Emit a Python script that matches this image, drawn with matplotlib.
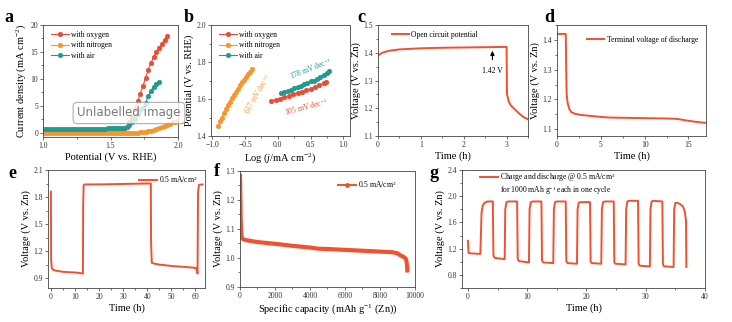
import numpy as np
import matplotlib
matplotlib.use("Agg")
import matplotlib.pyplot as plt
from matplotlib.ticker import AutoMinorLocator, MultipleLocator
from matplotlib.lines import Line2D

plt.rcParams['font.family'] = ['Liberation Serif', 'DejaVu Serif']
plt.rcParams['mathtext.fontset'] = 'custom'
plt.rcParams['mathtext.rm'] = 'Liberation Serif'
plt.rcParams['mathtext.it'] = 'Liberation Serif:italic'
plt.rcParams['xtick.direction'] = 'out'
plt.rcParams['ytick.direction'] = 'out'

RED = '#ef4a32'
ORANGE = '#f5962f'
TEAL = '#1e9c8e'
LINE = '#f2502f'

# ---- panel a: polarisation curves (x grid step 0.02 V from 1.0 V)
a_oxygen = [0.10, 0.10, 0.10, 0.10, 0.10, 0.10, 0.10, 0.10, 0.10, 0.10,
            0.11, 0.11, 0.11, 0.11, 0.11, 0.11, 0.12, 0.12, 0.12, 0.12,
            0.12, 0.13, 0.13, 0.13, 0.14, 0.14, 0.15, 0.17, 0.20,
            0.3, 0.6, 1.1, 1.9, 3.0, 4.4, 5.8, 7.2, 8.6, 10.2, 11.7,
            13.0, 14.0, 15.0, 15.8, 16.5, 17.2, 17.9]
a_nitrogen = [-0.10, -0.10, -0.10, -0.10, -0.10, -0.10, -0.10, -0.10, -0.10,
              -0.10, -0.10, -0.10, -0.09, -0.09, -0.09, -0.09, -0.09, -0.09,
              -0.09, -0.09, -0.08, -0.08, -0.08, -0.08, -0.08, -0.08, -0.07,
              -0.07, -0.07, -0.07, -0.06, -0.06, -0.06, -0.04, -0.02, 0.00,
              0.05, 0.10, 0.18, 0.28, 0.40, 0.55, 0.72, 0.90, 1.10, 1.30,
              1.50, 1.70, 1.90, 2.05, 2.20]
a_air = [0.70, 0.70, 0.70, 0.71, 0.71, 0.71, 0.72, 0.72, 0.72, 0.72,
         0.73, 0.73, 0.73, 0.74, 0.74, 0.74, 0.75, 0.75, 0.75, 0.76,
         0.76, 0.76, 0.77, 0.77, 0.78, 0.78, 0.79, 0.80, 0.82,
         0.85, 0.95, 1.1, 1.4, 1.9, 2.6, 3.4, 4.2, 4.6, 5.6, 6.8,
         7.8, 8.5, 9.0, 9.4]

# ---- panel b: Tafel plots
b_n_x = [-0.91, -0.88, -0.85, -0.82, -0.79, -0.76, -0.73, -0.70, -0.67,
         -0.64, -0.61, -0.58, -0.55, -0.52, -0.49, -0.46, -0.43, -0.40]
b_n_y = [1.455, 1.48, 1.50, 1.525, 1.545, 1.565, 1.585, 1.605, 1.62,
         1.64, 1.655, 1.675, 1.69, 1.705, 1.72, 1.735, 1.745, 1.76]
b_o_x = [-0.10, -0.03, 0.03, 0.10, 0.17, 0.23, 0.30, 0.37, 0.43, 0.50,
         0.57, 0.63, 0.70, 0.73]
b_o_y = [1.59, 1.595, 1.60, 1.61, 1.615, 1.625, 1.63, 1.64, 1.65, 1.655,
         1.665, 1.675, 1.685, 1.69]
b_a_x = [0.05, 0.10, 0.15, 0.20, 0.25, 0.30, 0.35, 0.40, 0.45, 0.50,
         0.55, 0.60, 0.65, 0.70, 0.75, 0.78]
b_a_y = [1.63, 1.64, 1.645, 1.65, 1.66, 1.665, 1.67, 1.68, 1.685, 1.695,
         1.70, 1.71, 1.72, 1.73, 1.74, 1.75]

# ---- panel c: open circuit potential
c_t = [0, 0.05, 0.1, 0.2, 0.3, 0.5, 0.75, 1.0, 1.5, 2.0, 2.5, 2.95, 3.0,
       3.01, 3.05, 3.1, 3.2, 3.3, 3.4, 3.5]
c_v = [1.39, 1.395, 1.40, 1.405, 1.408, 1.412, 1.414, 1.416, 1.418, 1.419,
       1.42, 1.421, 1.421, 1.25, 1.225, 1.21, 1.195, 1.18, 1.168, 1.16]

# ---- panel d: terminal voltage of discharge
d_t = [0, 0.5, 1.0, 1.05, 1.1, 1.2, 1.4, 1.6, 2.0, 2.5, 3.0, 4.0, 5.0, 6.0,
       8.0, 10.0, 12.0, 13.5, 14.0, 15.0, 16.0, 17.0]
d_v = [1.42, 1.42, 1.42, 1.30, 1.22, 1.19, 1.168, 1.158, 1.152, 1.149,
       1.147, 1.144, 1.141, 1.139, 1.138, 1.137, 1.136, 1.135, 1.133, 1.128,
       1.124, 1.121]

# ---- panel e: discharge / charge at 0.5 mA/cm2
e_t = [0.0, 0.1, 0.4, 1.0, 2.5, 5.0, 8.0, 11.0, 13.3, 13.4, 13.6, 14.0,
       20.0, 30.0, 40.0, 41.5, 41.6, 41.9, 43.0, 45.0, 50.0, 55.0, 59.5,
       60.3, 60.6, 60.9, 61.1, 61.5, 63.0]
e_v = [1.86, 1.10, 1.01, 0.99, 0.98, 0.97, 0.965, 0.96, 0.95, 1.70, 1.93,
       1.94, 1.94, 1.945, 1.95, 1.95, 1.30, 1.07, 1.06, 1.05, 1.035, 1.025,
       1.015, 1.01, 0.98, 0.95, 1.85, 1.935, 1.94]

# ---- panel f: specific capacity
f_cap = [0, 10, 20, 30, 40, 60, 80, 100, 150, 300, 500, 1000, 1500, 2000,
         3000, 4000, 4500, 5000, 6000, 7000, 8000, 8700, 9000, 9200, 9400,
         9500, 9550, 9570]
f_v = [1.29, 1.26, 1.21, 1.17, 1.13, 1.10, 1.08, 1.07, 1.066, 1.062, 1.06,
       1.055, 1.052, 1.049, 1.042, 1.036, 1.032, 1.031, 1.028, 1.025, 1.022,
       1.02, 1.016, 1.008, 1.002, 0.995, 0.97, 0.95]

# ---- panel g: cycling
g_t = [0.0, 0.1, 0.2, 2.1, 2.3, 2.5, 2.8, 3.3, 4.2, 4.3, 4.5, 6.2, 6.3, 6.5,
       6.8, 8.3, 8.4, 8.6, 10.3, 10.4, 10.6, 10.9, 12.4, 12.5, 12.7, 14.4,
       14.5, 14.7, 15.0, 16.5, 16.6, 16.8, 18.4, 18.5, 18.7, 19.0, 20.6,
       20.7, 20.9, 22.5, 22.6, 22.8, 23.1, 24.6, 24.7, 24.9, 26.6, 26.7,
       26.9, 27.2, 28.7, 28.8, 29.0, 30.7, 30.8, 31.0, 31.3, 32.8, 32.9,
       33.1, 34.7, 34.8, 35.0, 35.3, 35.8, 36.3, 36.6, 36.8, 36.85]
g_v = [1.32, 1.14, 1.13, 1.12, 1.75, 1.86, 1.90, 1.92, 1.92, 1.10, 1.06,
       1.04, 1.80, 1.91, 1.92, 1.92, 1.04, 1.01, 0.99, 1.80, 1.91, 1.92,
       1.92, 1.02, 0.99, 0.98, 1.80, 1.91, 1.92, 1.92, 1.01, 0.98, 0.97,
       1.80, 1.90, 1.91, 1.91, 1.00, 0.98, 0.97, 1.80, 1.91, 1.92, 1.92,
       0.99, 0.97, 0.96, 1.80, 1.92, 1.93, 1.93, 0.97, 0.94, 0.93, 1.80,
       1.92, 1.93, 1.92, 0.96, 0.93, 0.92, 1.80, 1.90, 1.90, 1.88, 1.84,
       1.76, 1.62, 0.92]

W, H = 732, 322
fig = plt.figure(figsize=(W / 100, H / 100), dpi=100)


def px_axes(x0, y0, x1, y1):
    # axes box from pixel coords (top-left origin)
    return fig.add_axes([x0 / W, 1 - y1 / H, (x1 - x0) / W, (y1 - y0) / H])


def style(ax, xlabel, ylabel):
    for s in ax.spines.values():
        s.set_linewidth(0.6)
        s.set_color('#444444')
    ax.tick_params(labelsize=5.5, length=2, width=0.5, pad=1.5,
                   colors='#333333')
    ax.tick_params(which='minor', length=1.2, width=0.4)
    ax.xaxis.set_minor_locator(AutoMinorLocator(2))
    ax.yaxis.set_minor_locator(AutoMinorLocator(2))
    ax.set_xlabel(xlabel, fontsize=7.5, labelpad=1.5)
    ax.set_ylabel(ylabel, fontsize=7.5, labelpad=2)


leg_kw = dict(frameon=False, fontsize=5.5, handlelength=2.3,
              handletextpad=0.3, borderaxespad=0.0, borderpad=0.0,
              labelspacing=0.35)

# ---------- a
ax = px_axes(43, 25, 178, 137)
for y, c, lab in [(a_oxygen, RED, 'with oxygen'),
                  (a_nitrogen, ORANGE, 'with nitrogen'),
                  (a_air, TEAL, 'with air')]:
    x = 1.0 + 0.02 * np.arange(len(y))
    ax.plot(x, y, '-o', color=c, ms=3.2, lw=0.8, mew=0.5, label=lab)
ax.set_xlim(1.0, 2.0)
ax.set_ylim(-0.8, 20)
ax.xaxis.set_major_locator(MultipleLocator(0.5))
ax.yaxis.set_major_locator(MultipleLocator(5))
style(ax, 'Potential (V vs. RHE)', 'Current density (mA cm$^{-2}$)')
ax.legend(loc='upper left', bbox_to_anchor=(0.06, 0.95), **leg_kw)

# ---------- b
ax = px_axes(211, 25, 350, 136)
ax.plot(b_o_x, b_o_y, '-o', color=RED, ms=3.2, lw=0.8, mew=0.5,
        label='with oxygen')
ax.plot(b_n_x, b_n_y, '-o', color=ORANGE, ms=3.2, lw=0.8, mew=0.5,
        label='with nitrogen')
ax.plot(b_a_x, b_a_y, '-o', color=TEAL, ms=3.2, lw=0.8, mew=0.5,
        label='with air')
ax.set_xlim(-1.02, 1.1)
ax.set_ylim(1.4, 2.0)
ax.xaxis.set_major_locator(MultipleLocator(0.5))
ax.yaxis.set_major_locator(MultipleLocator(0.2))
style(ax, 'Log ($j$/mA cm$^{-2}$)', 'Potential (V vs. RHE)')
ax.legend(loc='upper left', bbox_to_anchor=(0.06, 0.95), **leg_kw)
ax.text(-0.31, 1.63, '637 mV dec$^{-1}$', color=ORANGE, fontsize=5.5,
        rotation=60, ha='center', va='center')
ax.text(0.5, 1.765, '178 mV dec$^{-1}$', color=TEAL, fontsize=5.5,
        rotation=22, ha='center', va='center')
ax.text(0.43, 1.555, '105 mV dec$^{-1}$', color=RED, fontsize=5.5,
        rotation=15, ha='center', va='center')

# ---------- c
ax = px_axes(378, 25, 528, 136)
ax.plot(c_t, c_v, color=LINE, lw=1.4, label='Open circuit potential')
ax.set_xlim(0, 3.5)
ax.set_ylim(1.1, 1.5)
ax.xaxis.set_major_locator(MultipleLocator(1))
ax.yaxis.set_major_locator(MultipleLocator(0.1))
style(ax, 'Time (h)', 'Voltage (V vs. Zn)')
ax.legend(loc='upper left', bbox_to_anchor=(0.09, 0.95), **leg_kw)
ax.annotate('', xy=(2.67, 1.417), xytext=(2.67, 1.365),
            arrowprops=dict(arrowstyle='-|>', color='black', lw=0.8,
                            mutation_scale=6))
ax.text(2.67, 1.335, '1.42 V', fontsize=5.5, ha='center', va='center')

# ---------- d
ax = px_axes(557, 25, 706, 136)
ax.plot(d_t, d_v, color=LINE, lw=1.4, label='Terminal voltage of discharge')
ax.set_xlim(0, 17)
ax.set_ylim(1.077, 1.45)
ax.xaxis.set_major_locator(MultipleLocator(5))
ax.yaxis.set_major_locator(MultipleLocator(0.1))
style(ax, 'Time (h)', 'Voltage (V vs. Zn)')
ax.legend(loc='upper left', bbox_to_anchor=(0.2, 0.9), **leg_kw)

# ---------- e
ax = px_axes(48, 170, 205, 288)
ax.plot(e_t, e_v, color=LINE, lw=1.4, label='0.5 mA/cm$^2$')
ax.set_xlim(-1.2, 64)
ax.set_ylim(0.79, 2.1)
ax.xaxis.set_major_locator(MultipleLocator(10))
ax.set_yticks([0.9, 1.2, 1.5, 1.8, 2.1])
style(ax, 'Time (h)', 'Voltage (V vs. Zn)')
ax.legend(loc='upper left', bbox_to_anchor=(0.58, 0.97), **leg_kw)

# ---------- f
ax = px_axes(240, 171, 415, 287)
ax.plot(f_cap, f_v, color=LINE, lw=3.0, solid_capstyle='butt')
ax.set_xlim(0, 10000)
ax.set_ylim(0.9, 1.3)
ax.xaxis.set_major_locator(MultipleLocator(2000))
ax.yaxis.set_major_locator(MultipleLocator(0.1))
style(ax, 'Specific capacity (mAh g$^{-1}$ (Zn))', 'Voltage (V vs. Zn)')
h = Line2D([], [], color=LINE, lw=1.4, marker='o', ms=2.5)
ax.legend([h], ['0.5 mA/cm$^2$'], loc='upper left',
          bbox_to_anchor=(0.56, 0.93), **leg_kw)

# ---------- g
ax = px_axes(462, 170, 705, 288)
ax.plot(g_t, g_v, color=LINE, lw=1.4,
        label='Charge and discharge @ 0.5 mA/cm$^2$')
ax.set_xlim(-1, 40)
ax.set_ylim(0.6, 2.4)
ax.xaxis.set_major_locator(MultipleLocator(10))
ax.yaxis.set_major_locator(MultipleLocator(0.4))
style(ax, 'Time (h)', 'Voltage (V vs. Zn)')
ax.legend(loc='upper left', bbox_to_anchor=(0.075, 0.995), **leg_kw)
ax.text(0.157, 0.825, 'for 1000 mAh g$^{-1}$ each in one cycle',
        transform=ax.transAxes, fontsize=5.5, ha='left', va='center')

# panel letters
for lab, x, y in [('a', 4, 22), ('b', 184, 22), ('c', 357, 22),
                  ('d', 544, 22), ('e', 8, 178), ('f', 214, 176),
                  ('g', 430, 178)]:
    fig.text(x / W, 1 - y / H, lab, fontsize=13, fontweight='bold',
             ha='left', va='baseline')

# overlay badge seen on the reference
fig.text(129 / W, 1 - 113 / H, 'Unlabelled image', family='DejaVu Sans',
         fontsize=8.5, color='#7a7a7a', ha='center', va='center',
         bbox=dict(boxstyle='round,pad=0.35', fc='white', alpha=0.8,
                   ec='#9a9a9a', lw=0.8))

fig.savefig('out.png', dpi=100)
